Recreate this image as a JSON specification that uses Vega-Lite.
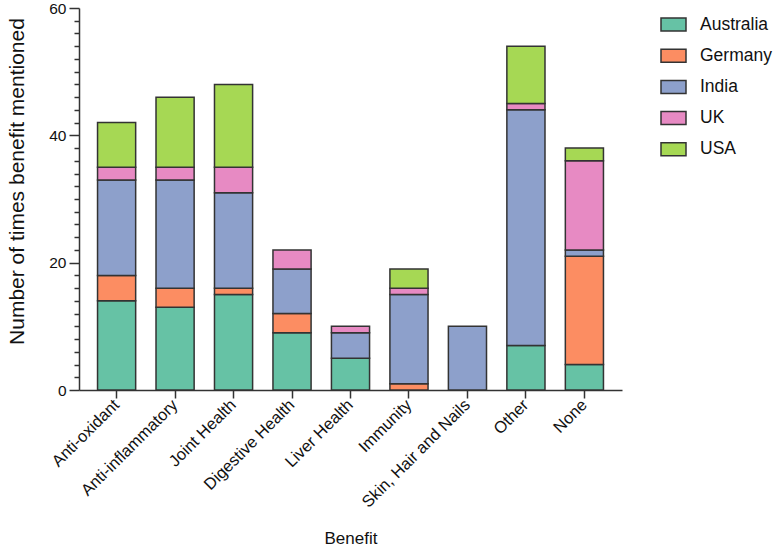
{
  "$schema": "https://vega.github.io/schema/vega-lite/v6.json",
  "autosize": "none",
  "width": 543,
  "height": 382,
  "padding": {"left": 79, "top": 8, "right": 152, "bottom": 156},
  "background": "white",
  "config": {
    "font": "Liberation Sans",
    "view": {"stroke": null},
    "axis": {"domainColor": "#333333", "tickColor": "#333333", "domainWidth": 1.5, "tickWidth": 1.5, "labelColor": "#111111", "titleColor": "#111111", "grid": false, "labelFont": "Liberation Sans", "titleFont": "Liberation Sans", "titleFontWeight": "normal"}
  },
  "data": {
    "values": [
      {"benefit": "Anti-oxidant", "country": "Australia", "count": 14},
      {"benefit": "Anti-oxidant", "country": "Germany", "count": 4},
      {"benefit": "Anti-oxidant", "country": "India", "count": 15},
      {"benefit": "Anti-oxidant", "country": "UK", "count": 2},
      {"benefit": "Anti-oxidant", "country": "USA", "count": 7},
      {"benefit": "Anti-inflammatory", "country": "Australia", "count": 13},
      {"benefit": "Anti-inflammatory", "country": "Germany", "count": 3},
      {"benefit": "Anti-inflammatory", "country": "India", "count": 17},
      {"benefit": "Anti-inflammatory", "country": "UK", "count": 2},
      {"benefit": "Anti-inflammatory", "country": "USA", "count": 11},
      {"benefit": "Joint Health", "country": "Australia", "count": 15},
      {"benefit": "Joint Health", "country": "Germany", "count": 1},
      {"benefit": "Joint Health", "country": "India", "count": 15},
      {"benefit": "Joint Health", "country": "UK", "count": 4},
      {"benefit": "Joint Health", "country": "USA", "count": 13},
      {"benefit": "Digestive Health", "country": "Australia", "count": 9},
      {"benefit": "Digestive Health", "country": "Germany", "count": 3},
      {"benefit": "Digestive Health", "country": "India", "count": 7},
      {"benefit": "Digestive Health", "country": "UK", "count": 3},
      {"benefit": "Liver Health", "country": "Australia", "count": 5},
      {"benefit": "Liver Health", "country": "India", "count": 4},
      {"benefit": "Liver Health", "country": "UK", "count": 1},
      {"benefit": "Immunity", "country": "Germany", "count": 1},
      {"benefit": "Immunity", "country": "India", "count": 14},
      {"benefit": "Immunity", "country": "UK", "count": 1},
      {"benefit": "Immunity", "country": "USA", "count": 3},
      {"benefit": "Skin, Hair and Nails", "country": "India", "count": 10},
      {"benefit": "Other", "country": "Australia", "count": 7},
      {"benefit": "Other", "country": "India", "count": 37},
      {"benefit": "Other", "country": "UK", "count": 1},
      {"benefit": "Other", "country": "USA", "count": 9},
      {"benefit": "None", "country": "Australia", "count": 4},
      {"benefit": "None", "country": "Germany", "count": 17},
      {"benefit": "None", "country": "India", "count": 1},
      {"benefit": "None", "country": "UK", "count": 14},
      {"benefit": "None", "country": "USA", "count": 2}
    ]
  },
  "mark": {"type": "bar", "stroke": "#333333", "strokeWidth": 1.5, "opacity": 1},
  "encoding": {
    "x": {
      "field": "benefit",
      "type": "nominal",
      "sort": ["Anti-oxidant", "Anti-inflammatory", "Joint Health", "Digestive Health", "Liver Health", "Immunity", "Skin, Hair and Nails", "Other", "None"],
      "scale": {"paddingInner": 0.348, "paddingOuter": 0.317},
      "axis": {
        "title": "Benefit",
        "titleFontSize": 17,
        "titleY": 153,
        "titleBaseline": "alphabetic",
        "labelAngle": -45,
        "labelAlign": "right",
        "labelBaseline": "middle",
        "labelFontSize": 16.5,
        "labelPadding": 4,
        "tickSize": 8
      }
    },
    "y": {
      "field": "count",
      "type": "quantitative",
      "stack": "zero",
      "scale": {"domain": [0, 60], "nice": false},
      "axis": {
        "title": "Number of times benefit mentioned",
        "titleFontSize": 21,
        "titleX": -52,
        "titleY": 173,
        "titleBaseline": "bottom",
        "labelFontSize": 15.5,
        "labelPadding": 3,
        "values": [0, 2, 4, 6, 8, 10, 12, 14, 16, 18, 20, 22, 24, 26, 28, 30, 32, 34, 36, 38, 40, 42, 44, 46, 48, 50, 52, 54, 56, 58, 60],
        "labelExpr": "datum.value % 20 === 0 ? datum.label : ''",
        "tickSize": {"condition": {"test": "datum.value % 20 === 0", "value": 10}, "value": 5}
      }
    },
    "color": {
      "field": "country",
      "type": "nominal",
      "scale": {
        "domain": ["Australia", "Germany", "India", "UK", "USA"],
        "range": ["#66c2a5", "#fc8d62", "#8da0cb", "#e78ac3", "#a6d854"]
      },
      "legend": {
        "title": null,
        "orient": "none",
        "legendX": 581,
        "legendY": 3,
        "padding": 0,
        "symbolType": "M-1,-0.52H1V0.52H-1Z",
        "symbolSize": 625,
        "symbolStrokeColor": "#333333",
        "symbolStrokeWidth": 1.5,
        "symbolOpacity": 1,
        "labelFontSize": 17.5,
        "labelColor": "#111111",
        "labelFont": "Liberation Sans",
        "labelOffset": 13,
        "rowPadding": 8.2
      }
    },
    "order": {"field": "country", "sort": "ascending"}
  }
}
